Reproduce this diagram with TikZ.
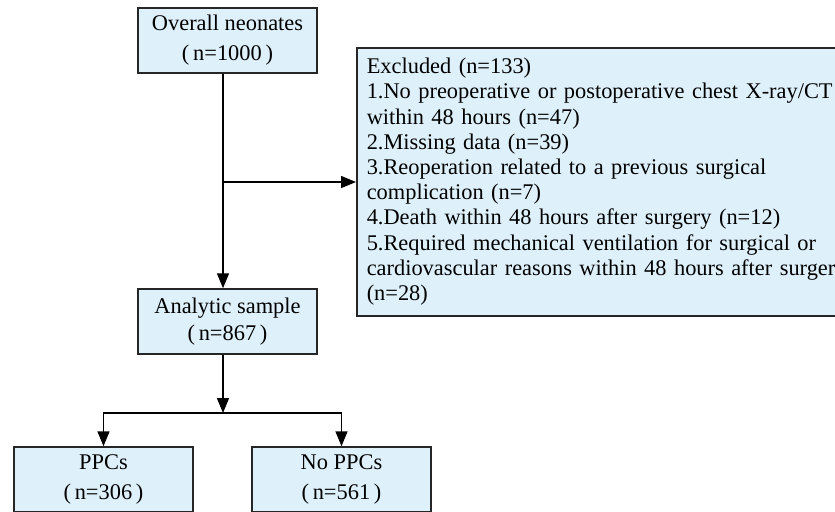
\documentclass[tikz,border=0pt]{standalone}
\usepackage{fontspec}
\setmainfont{Liberation Serif}
\usetikzlibrary{arrows.meta,positioning}
\definecolor{boxblue}{RGB}{222,241,251}

\begin{document}
\begin{tikzpicture}[x=0.5pt,y=-0.5pt,font=\fontsize{11.2}{15}\selectfont]
                \tikzstyle{stage} = [shape=rectangle, fill=boxblue, draw=black!85, line width=0.75pt, align=center, inner sep=0pt, minimum width=89.5pt, minimum height=32.5pt];
                \tikzstyle{flow} = [-{Triangle[length=7.5pt,width=6pt]}, line width=0.75pt];

                \clip (0,0) rectangle (835,511);

                \node[stage](Overall) at (227.5,40.5) {Overall neonates\\(\,n=1000\,)};
                \node[stage, font=\fontsize{11.2}{13.5}\selectfont](Analytic) at (227.5,321.5) {Analytic sample\\(\,n=867\,)};
                \node[stage](PPC) at (103.5,479.5) {PPCs\\(\,n=306\,)};
                \node[stage](NoPPC) at (341.5,479.5) {No PPCs\\(\,n=561\,)};
                \node[stage, anchor=north west, align=left, text width=260pt, minimum height=134pt, inner xsep=5pt, inner ysep=4pt, font=\fontsize{11.2}{12.6}\selectfont](Excluded) at (356,47) {Excluded (n=133)\\
                    1.No preoperative or postoperative chest X-ray/CT\\within 48 hours (n=47)\\
                    2.Missing data (n=39)\\
                    3.Reoperation related to a previous surgical\\complication (n=7)\\
                    4.Death within 48 hours after surgery (n=12)\\
                    5.Required mechanical ventilation for surgical or\\cardiovascular reasons within 48 hours after surgery\\(n=28)};

                \coordinate (Side) at (223,182);
                \coordinate (Split) at (223,413);

                \draw[flow] (Overall.south -| Side) -- (Analytic.north -| Side);
                \draw[flow] (Side) -- (Side -| Excluded.west);
                \draw[flow] (Analytic.south -| Split) -- (Split);
                \draw[flow] (Split) -- (Split -| PPC.north) -- (PPC.north);
                \draw[flow] (Split) -- (Split -| NoPPC.north) -- (NoPPC.north);
            \end{tikzpicture}
\end{document}
